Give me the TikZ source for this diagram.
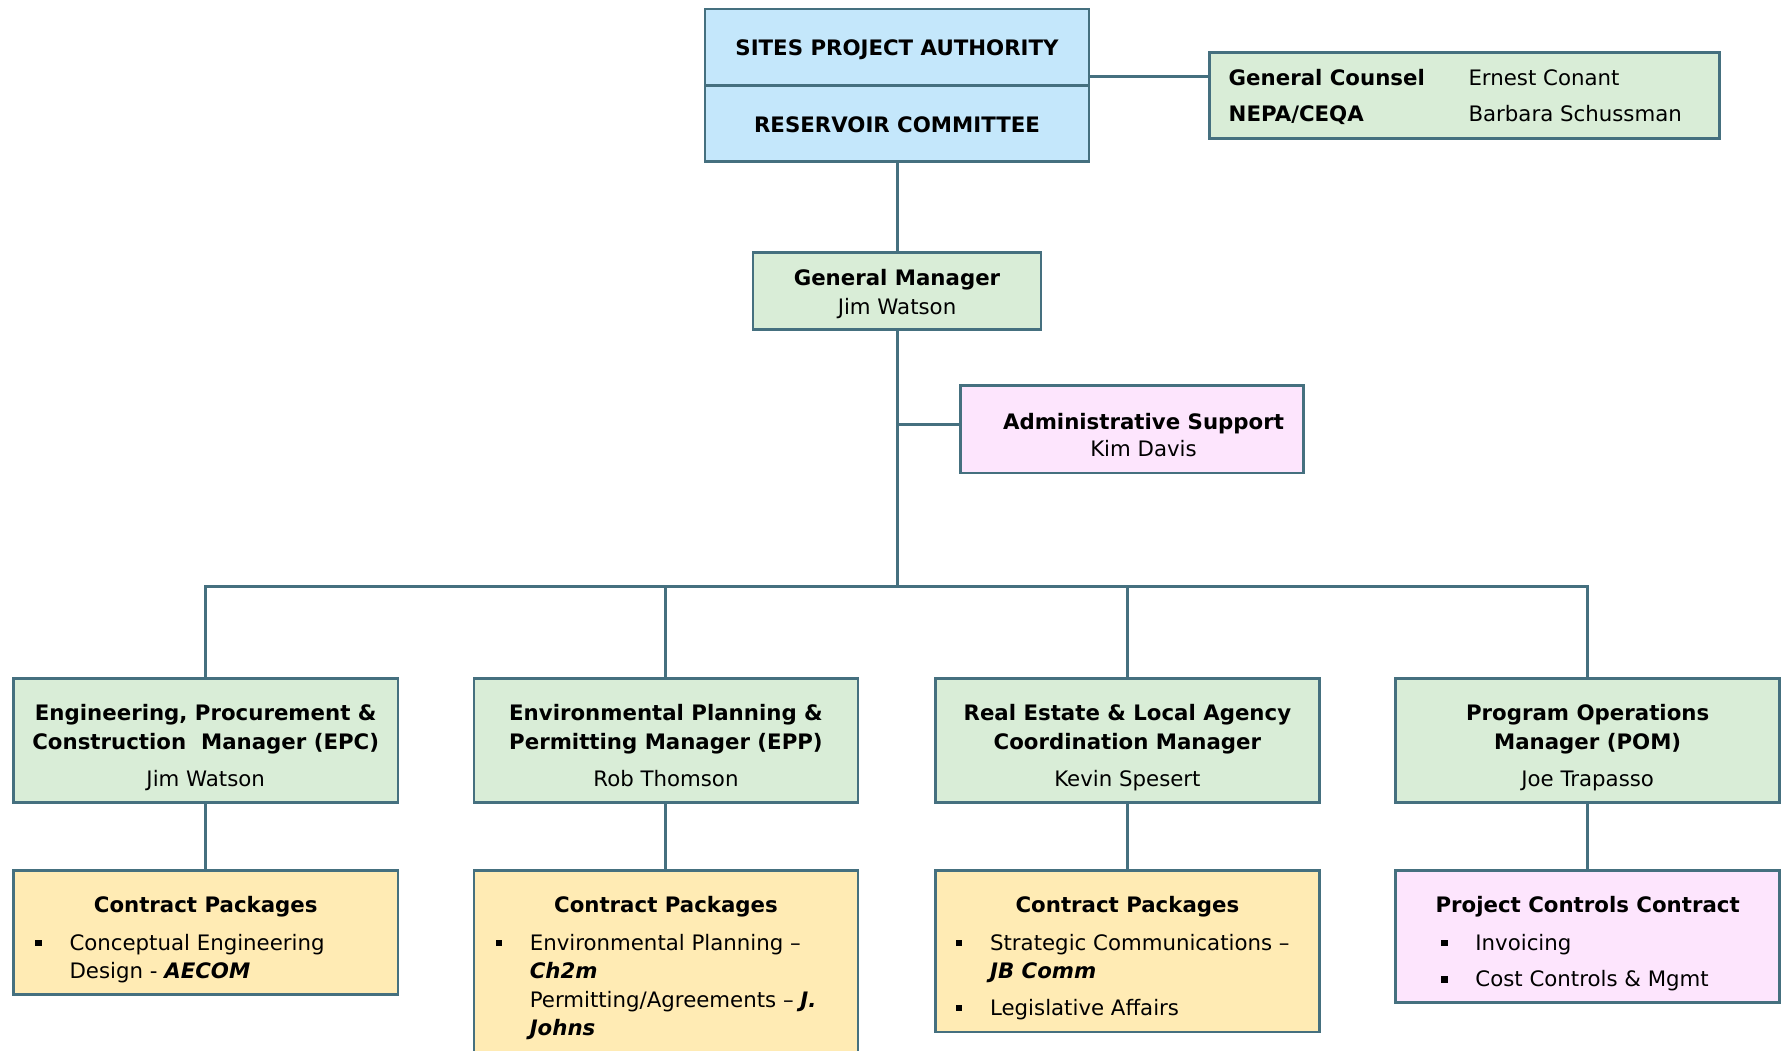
\documentclass[tikz,border=0pt]{standalone}
\usepackage{fontspec}
\setmainfont{DejaVu Sans}
\definecolor{edge}{HTML}{45707F}
\definecolor{skyfill}{HTML}{C4E7FB}
\definecolor{mintfill}{HTML}{D9EDD7}
\definecolor{sandfill}{HTML}{FFEBB4}
\definecolor{pinkfill}{HTML}{FDE5FD}
\newcommand{\bi}[1]{\textbf{\textit{#1}}}
\tikzset{
  box/.style={draw=edge, line width=2.6pt, rectangle, inner sep=0pt},
  link/.style={draw=edge, line width=3pt},
  lbl/.style={inner sep=0pt, font=\fontsize{21.3}{28.5}\selectfont, align=center},
  line/.style={inner sep=0pt, anchor=base west, font=\fontsize{21.3}{28.5}\selectfont},
  sq/.style={fill=black, inner sep=0pt, minimum size=6.5pt},
}
% rectangle from its corners: name, x1, y1, x2, y2, fill
\newcommand{\orgbox}[6]{%
  \node[box, fill=#6, minimum width={(#4)-(#2)}, minimum height={(#5)-(#3)}]
    (#1) at ({((#2)+(#4))/2},{((#3)+(#5))/2}) {};}
\begin{document}
\begin{tikzpicture}[x=1pt,y=-1pt]
\clip (0,0) rectangle (1782,1050);
\fill[white] (0,0) rectangle (1782,1050);

% board
\orgbox{spa}{705}{9.1}{1089}{85.2}{skyfill}
\orgbox{rc}{705}{85.2}{1089}{161.4}{skyfill}
\node[lbl, font=\fontsize{21.3}{28.5}\selectfont\bfseries] (spat) at ([yshift=-3pt]spa.center) {SITES PROJECT AUTHORITY};
\node[lbl, font=\fontsize{21.3}{28.5}\selectfont\bfseries] (rct) at ([yshift=-1pt]rc.center) {RESERVOIR COMMITTEE};

% counsel
\orgbox{gc}{1209.2}{52.3}{1719.5}{138.6}{mintfill}
\node[line, font=\fontsize{21.3}{28.5}\selectfont\bfseries] (gc1) at (1228.5,85) {General Counsel};
\node[line, font=\fontsize{21.3}{28.5}\selectfont\bfseries] (gc2) at (1228.5,121.6) {NEPA/CEQA};
\node[line] (gc3) at (1468.3,85) {Ernest Conant};
\node[line] (gc4) at (1468.3,121.6) {Barbara Schussman};

% general manager
\orgbox{gm}{753}{252.3}{1041}{329.6}{mintfill}
\node[lbl, font=\fontsize{21.3}{29.8}\selectfont] (gmt) at (897,294) {\textbf{General Manager}\\Jim Watson};

% administrative support
\orgbox{adm}{960.3}{385.3}{1303.5}{472.8}{pinkfill}
\node[lbl, font=\fontsize{21.3}{27.3}\selectfont] (admt) at (1143.5,434.8) {\textbf{Administrative Support}\\Kim Davis};

% managers
\orgbox{m1}{13.6}{678.5}{397.8}{802.4}{mintfill}
\orgbox{m2}{473.9}{678.5}{858}{802.4}{mintfill}
\orgbox{m3}{935.3}{678.5}{1319.5}{802.4}{mintfill}
\orgbox{m4}{1395.6}{678.5}{1779.7}{802.4}{mintfill}
\foreach \m/\t/\n in {m1/{Engineering, Procurement \&\\Construction~ Manager (EPC)}/Jim Watson,
                      m2/{Environmental Planning \&\\Permitting Manager (EPP)}/Rob Thomson,
                      m3/{Real Estate \& Local Agency\\Coordination Manager}/Kevin Spesert,
                      m4/{Program Operations\\Manager (POM)}/Joe Trapasso}{
  \node[lbl, font=\fontsize{21.3}{28.6}\selectfont\bfseries] (\m t) at (\m.center |- 0,729) {\t};
  \node[lbl, anchor=base] (\m n) at (\m.center |- 0,786.5) {\n};
}

% contract packages
\orgbox{c1}{13.6}{870.5}{397.8}{994.4}{sandfill}
\orgbox{c2}{473.9}{870.5}{858}{1080}{sandfill}
\orgbox{c3}{935.3}{870.5}{1319.5}{1031.9}{sandfill}
\orgbox{c4}{1395.6}{870.5}{1779.7}{1002.4}{pinkfill}
\foreach \c/\t in {c1/Contract Packages, c2/Contract Packages, c3/Contract Packages, c4/Project Controls Contract}{
  \node[lbl, anchor=base, font=\fontsize{21.3}{28.5}\selectfont\bfseries] (\c t) at (\c.center |- 0,912.5) {\t};
}
\node[sq] (c1b1) at (38.6,943) {};
\node[line] (c1l1) at (69.3,950) {Conceptual Engineering};
\node[line] (c1l2) at (69.3,978.5) {Design - \bi{AECOM}};

\node[sq] (c2b1) at (499,943) {};
\node[line] (c2l1) at (529.6,950) {Environmental Planning –};
\node[line] (c2l2) at (529.6,978.5) {\bi{Ch2m}};
\node[line] (c2l3) at (529.6,1007) {Permitting/Agreements – \bi{J.}};
\node[line] (c2l4) at (529.6,1035.4) {\bi{Johns}};

\node[sq] (c3b1) at (959,943) {};
\node[line] (c3l1) at (989.9,950) {Strategic Communications –};
\node[line] (c3l2) at (989.9,978.5) {\bi{JB Comm}};
\node[sq] (c3b2) at (959,1008) {};
\node[line] (c3l3) at (989.9,1015) {Legislative Affairs};

\node[sq] (c4b1) at (1444.5,943) {};
\node[line] (c4l1) at (1475.2,950) {Invoicing};
\node[sq] (c4b2) at (1444.5,979.5) {};
\node[line] (c4l2) at (1475.2,986.5) {Cost Controls \& Mgmt};

% connectors
\coordinate (gcjoin) at ([yshift=19pt]gc.west);
\draw[link] (gcjoin) -- (gcjoin -| spa.east);
\draw[link] (rc.south) -- (gm.north);
\coordinate (bus) at (gm.south |- 0,586.4);
\draw[link] (gm.south) -- (bus);
\coordinate (admjoin) at ([yshift=5pt]adm.west);
\draw[link] (admjoin) -- (admjoin -| gm.south);
\draw[link] (m1.north) |- (bus) -| (m4.north);
\draw[link] (m2.north) -- (m2.north |- bus);
\draw[link] (m3.north) -- (m3.north |- bus);
\foreach \i in {1,2,3,4}{
  \draw[link] (m\i.south) -- (c\i.north);
}
\end{tikzpicture}
\end{document}
